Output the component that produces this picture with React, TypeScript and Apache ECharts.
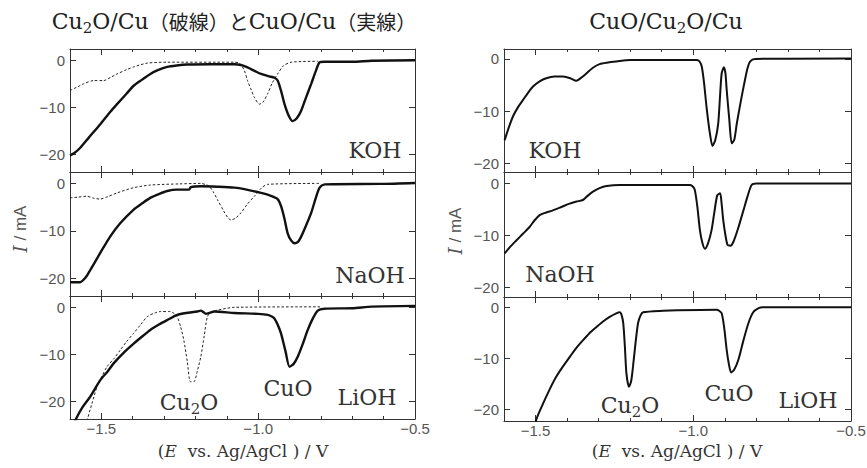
import React, { useEffect, useRef } from 'react';
import * as echarts from 'echarts';

// ---- data: [E (V vs Ag/AgCl), I (mA)] ----
const kohCu2O = [[-1.6,-6.4],[-1.575,-5.6],[-1.557,-5],[-1.525,-4.3],[-1.493,-4.3],[-1.47,-3.6],[-1.45,-2.9],[-1.42,-2],[-1.397,-1.4],[-1.354,-0.6],[-1.29,-0.4],[-1.076,-0.4],[-1.06,-0.6],[-1.045,-2],[-1.034,-4.3],[-1.022,-6.3],[-1.012,-7.9],[-0.996,-9.3],[-0.985,-8.9],[-0.97,-7.1],[-0.955,-4.8],[-0.938,-2.9],[-0.92,-1.2],[-0.895,-0.4],[-0.81,-0.2]];
const kohCuO = [[-1.6,-20.2],[-1.585,-19.6],[-1.568,-18.6],[-1.54,-16.4],[-1.504,-13.6],[-1.47,-10.8],[-1.45,-9.3],[-1.42,-7.1],[-1.397,-5.4],[-1.37,-4.1],[-1.344,-2.9],[-1.32,-2.1],[-1.29,-1.4],[-1.26,-1.1],[-1.226,-0.9],[-1.15,-0.85],[-1.076,-0.85],[-1.055,-1.0],[-1.034,-1.5],[-1.01,-2.3],[-0.991,-2.9],[-0.965,-3.4],[-0.948,-3.7],[-0.938,-4.3],[-0.927,-6.5],[-0.916,-9.3],[-0.903,-11.7],[-0.89,-12.9],[-0.877,-12.3],[-0.863,-10.7],[-0.847,-7.8],[-0.831,-5],[-0.817,-2.4],[-0.804,-0.4],[-0.79,-0.3],[-0.7,-0.3],[-0.638,-0.1],[-0.5,0]];
const naohCu2O = [[-1.6,-3.05],[-1.575,-2.9],[-1.547,-2.7],[-1.525,-3.1],[-1.504,-3.3],[-1.48,-2.8],[-1.45,-2],[-1.397,-0.9],[-1.344,-0.35],[-1.25,-0.1],[-1.183,0],[-1.165,-0.3],[-1.156,-0.6],[-1.143,-1.8],[-1.13,-3.4],[-1.11,-5.8],[-1.098,-7.1],[-1.087,-7.7],[-1.072,-7.3],[-1.055,-6.2],[-1.035,-4.4],[-1.012,-2.7],[-0.99,-1],[-0.97,-0.2],[-0.8,0]];
const naohCuO = [[-1.6,-20.8],[-1.568,-20.8],[-1.55,-19.8],[-1.536,-18.3],[-1.505,-14.8],[-1.472,-11.2],[-1.44,-8.4],[-1.397,-5.5],[-1.37,-4.2],[-1.344,-3.05],[-1.315,-2.2],[-1.29,-1.6],[-1.26,-1.3],[-1.22,-1.3],[-1.215,-0.8],[-1.183,-0.6],[-1.13,-0.7],[-1.076,-0.9],[-1.03,-1.4],[-0.991,-2],[-0.96,-2.6],[-0.938,-3.3],[-0.927,-4.8],[-0.916,-7.5],[-0.906,-10.5],[-0.895,-12],[-0.884,-12.6],[-0.873,-12.3],[-0.863,-11.2],[-0.847,-8.8],[-0.831,-6.2],[-0.815,-2.8],[-0.804,-0.9],[-0.788,-0.2],[-0.606,-0.1],[-0.5,0.1]];
const liohCu2O = [[-1.55,-26],[-1.544,-23.7],[-1.53,-20.4],[-1.514,-16.9],[-1.498,-14.6],[-1.482,-12.6],[-1.46,-10.9],[-1.44,-9.1],[-1.42,-7.3],[-1.397,-5.5],[-1.375,-3.7],[-1.354,-2],[-1.33,-1.2],[-1.311,-0.9],[-1.28,-0.9],[-1.268,-1.3],[-1.258,-2],[-1.247,-4.2],[-1.237,-7],[-1.226,-11.5],[-1.216,-15.8],[-1.205,-15.8],[-1.194,-13.5],[-1.183,-10.5],[-1.172,-6],[-1.162,-2],[-1.15,-1],[-1.13,-0.6],[-1.076,0],[-0.8,0.1]];
const liohCuO = [[-1.595,-26],[-1.581,-23.7],[-1.56,-21.2],[-1.536,-19],[-1.504,-15.5],[-1.48,-13.6],[-1.461,-11.9],[-1.43,-9.7],[-1.397,-7.7],[-1.37,-6.2],[-1.344,-4.8],[-1.315,-3.6],[-1.29,-2.7],[-1.258,-1.6],[-1.23,-1.2],[-1.194,-0.9],[-1.183,-0.7],[-1.175,-1.0],[-1.167,-1.4],[-1.155,-1.2],[-1.14,-0.9],[-1.076,-1.2],[-1.0,-1.4],[-0.97,-1.6],[-0.955,-2.0],[-0.948,-2.4],[-0.937,-3.8],[-0.927,-5.6],[-0.913,-9.3],[-0.9,-12.6],[-0.887,-12.0],[-0.874,-10.5],[-0.858,-7.8],[-0.842,-4.8],[-0.826,-2.4],[-0.81,-0.7],[-0.79,-0.3],[-0.7,-0.2],[-0.638,0.15],[-0.5,0.3]];
const kohMixed = [[-1.598,-15.6],[-1.585,-13.2],[-1.572,-11.1],[-1.556,-9.3],[-1.54,-7.9],[-1.524,-6.5],[-1.508,-5.3],[-1.487,-4.3],[-1.466,-3.7],[-1.44,-3.4],[-1.413,-3.4],[-1.39,-3.7],[-1.371,-4.2],[-1.355,-3.6],[-1.339,-2.8],[-1.318,-1.7],[-1.297,-1],[-1.27,-0.7],[-1.244,-0.5],[-1.2,-0.2],[-0.989,-0.2],[-0.98,-0.5],[-0.973,-1.5],[-0.966,-4.5],[-0.958,-9.2],[-0.948,-14],[-0.939,-16.7],[-0.93,-15.5],[-0.921,-12.4],[-0.915,-7],[-0.91,-2.8],[-0.903,-1.6],[-0.898,-2.8],[-0.894,-6],[-0.886,-11.5],[-0.878,-16.2],[-0.87,-15.5],[-0.862,-12.4],[-0.849,-8],[-0.836,-4],[-0.828,-1.8],[-0.82,-0.5],[-0.804,0],[-0.5,0.1]];
const naohMixed = [[-1.598,-13.5],[-1.58,-12.2],[-1.561,-11],[-1.54,-9.7],[-1.519,-8.4],[-1.503,-7.1],[-1.487,-6.1],[-1.466,-5.6],[-1.445,-5.2],[-1.42,-4.6],[-1.392,-3.9],[-1.37,-3.5],[-1.35,-3.2],[-1.335,-2.4],[-1.318,-1.6],[-1.297,-0.9],[-1.275,-0.5],[-1.233,-0.3],[-1.01,-0.3],[-1.0,-0.7],[-0.995,-1.3],[-0.987,-4.5],[-0.979,-9],[-0.971,-11.5],[-0.963,-12.6],[-0.953,-11.5],[-0.942,-9],[-0.933,-5.5],[-0.924,-2.3],[-0.915,-1.9],[-0.91,-4],[-0.905,-7.1],[-0.898,-10],[-0.891,-11.9],[-0.882,-12],[-0.873,-11.3],[-0.857,-8.5],[-0.841,-5.2],[-0.828,-2.5],[-0.815,-0.3],[-0.799,0],[-0.5,0]];
const liohMixed = [[-1.505,-25],[-1.498,-22.1],[-1.477,-19],[-1.456,-16.2],[-1.435,-13.7],[-1.413,-11.6],[-1.39,-9.6],[-1.371,-8],[-1.35,-6.5],[-1.329,-5.1],[-1.307,-3.9],[-1.286,-2.8],[-1.265,-1.9],[-1.244,-1.2],[-1.233,-1],[-1.227,-1.6],[-1.222,-3.1],[-1.217,-7.5],[-1.212,-12.9],[-1.204,-15.6],[-1.197,-14.5],[-1.191,-11.6],[-1.183,-7],[-1.175,-3.1],[-1.167,-1.6],[-1.159,-1],[-1.095,-0.7],[-1.05,-0.6],[-0.926,-0.5],[-0.918,-0.7],[-0.91,-1.2],[-0.902,-4],[-0.894,-8.4],[-0.887,-11.2],[-0.88,-12.8],[-0.87,-12.2],[-0.857,-10.3],[-0.841,-6.5],[-0.825,-3.1],[-0.81,-1],[-0.793,-0.2],[-0.78,0],[-0.5,0]];

// ---- ticks / labels ----
const xMajorTicks = [-1.5, -1.0, -0.5];
const xMinorTicks = [-1.6, -1.5, -1.4, -1.3, -1.2, -1.1, -1.0, -0.9, -0.8, -0.7, -0.6, -0.5];
const yTicks = [-20, -10, 0];
const electrolytes = ['KOH', 'NaOH', 'LiOH'];
const leftTitleParts = ['Cu', '2', 'O/Cu', '（破線）と', 'CuO/Cu', '（実線）'];
const rightTitleParts = ['CuO/Cu', '2', 'O/Cu'];
const cu2oParts = ['Cu', '2', 'O'];
const cuoLabel = 'CuO';
const xName = ['(', 'E', '  vs. Ag/AgCl ) / V'];
const yName = ['I', ' / mA'];

const SERIF = "'DejaVu Serif', 'Liberation Serif', serif";
const SANS = "'Liberation Sans', Arial, sans-serif";
const minus = (v: number, d: number) => v.toFixed(d).replace('-', '\u2212');

export default function App() {
  const ref = useRef<HTMLDivElement>(null);
  useEffect(() => {
    const chart = echarts.init(ref.current!, null, { renderer: 'svg' });

    const panels = [
      { left: 70, width: 345, top: 49, height: 123, ymin: -23.7, ymax: 2.4, bottom: false },
      { left: 70, width: 345, top: 172, height: 124, ymin: -23.7, ymax: 2.4, bottom: false },
      { left: 70, width: 345, top: 296, height: 123, ymin: -23.7, ymax: 2.4, bottom: true },
      { left: 504, width: 347, top: 49, height: 123, ymin: -21.7, ymax: 1.9, bottom: false },
      { left: 504, width: 347, top: 172, height: 125, ymin: -21.9, ymax: 2.2, bottom: false },
      { left: 504, width: 347, top: 297, height: 124, ymin: -22.3, ymax: 2.0, bottom: true },
    ];

    const grid: any[] = [];
    const xAxis: any[] = [];
    const yAxis: any[] = [];
    panels.forEach((p, g) => {
      grid.push({ left: p.left, top: p.top, width: p.width, height: p.height, containLabel: false, outerBoundsMode: 'none' });
      const base = {
        type: 'value', gridIndex: g, min: -1.6, max: -0.5,
        splitLine: { show: false },
      };
      const line = { show: true, onZero: false, lineStyle: { color: '#333', width: 1 } };
      xAxis.push({
        ...base, position: 'bottom', axisLine: line,
        axisTick: { show: true, inside: true, length: 6, customValues: xMajorTicks, lineStyle: { color: '#333' } },
        axisLabel: p.bottom
          ? { show: true, customValues: xMajorTicks, margin: 2, fontSize: 15, lineHeight: 15, color: '#555', fontFamily: SANS, formatter: (v: number) => minus(v, 1) }
          : { show: false },
      });
      xAxis.push({
        ...base, position: 'bottom', axisLine: { show: false, onZero: false },
        axisTick: { show: true, inside: true, length: 3, customValues: xMinorTicks, lineStyle: { color: '#333' } },
        axisLabel: { show: false },
      });
      xAxis.push({
        ...base, position: 'top', axisLine: line,
        axisTick: { show: true, inside: true, length: 6, customValues: xMajorTicks, lineStyle: { color: '#333' } },
        axisLabel: { show: false },
      });
      xAxis.push({
        ...base, position: 'top', axisLine: { show: false, onZero: false },
        axisTick: { show: true, inside: true, length: 3, customValues: xMinorTicks, lineStyle: { color: '#333' } },
        axisLabel: { show: false },
      });
      yAxis.push({
        type: 'value', gridIndex: g, min: p.ymin, max: p.ymax, position: 'left',
        splitLine: { show: false }, axisLine: line,
        axisTick: { show: true, inside: true, length: 6, customValues: yTicks, lineStyle: { color: '#333' } },
        axisLabel: { show: true, customValues: yTicks, margin: 5, fontSize: 15, color: '#555', fontFamily: SANS, formatter: (v: number) => minus(v, 0) },
      });
      yAxis.push({
        type: 'value', gridIndex: g, min: p.ymin, max: p.ymax, position: 'right',
        splitLine: { show: false }, axisLine: line,
        axisTick: { show: true, inside: true, length: 6, customValues: yTicks, lineStyle: { color: '#333' } },
        axisLabel: { show: false },
      });
    });

    const solid = (g: number, data: number[][], w: number) => ({
      type: 'line', xAxisIndex: 4 * g, yAxisIndex: 2 * g, data, showSymbol: false, symbol: 'none',
      smooth: 0.25, clip: true, z: 3,
      lineStyle: { color: '#111', width: w, type: 'solid' },
    });
    const dashed = (g: number, data: number[][]) => ({
      type: 'line', xAxisIndex: 4 * g, yAxisIndex: 2 * g, data, showSymbol: false, symbol: 'none',
      smooth: 0.25, clip: true, z: 2,
      lineStyle: { color: '#222', width: 1, type: [2.5, 2] },
    });

    const series = [
      dashed(0, kohCu2O), solid(0, kohCuO, 2.4),
      dashed(1, naohCu2O), solid(1, naohCuO, 2.4),
      dashed(2, liohCu2O), solid(2, liohCuO, 2.4),
      solid(3, kohMixed, 2), solid(4, naohMixed, 2), solid(5, liohMixed, 2),
    ];

    const txt = (x: number, y: number, text: string, size = 22, extra: any = {}) => ({
      type: 'text', x, y, z: 10,
      style: {
        text, fontSize: size, fontFamily: SERIF, fill: '#333',
        align: 'center', verticalAlign: 'middle', textAlign: 'center', textVerticalAlign: 'middle', ...extra,
      },
    });

    const lat = { fontSize: 22, fontFamily: SERIF, fill: '#333', color: '#333' };
    const sub = { fontSize: 15, fontFamily: SERIF, fill: '#333', color: '#333', padding: [13, 0, 0, 0] };
    const latT = { fontSize: 22, fontFamily: SERIF, fill: '#222', color: '#222' };
    const subT = { fontSize: 15, fontFamily: SERIF, fill: '#222', color: '#222', padding: [13, 0, 0, 0] };
    const cjk = { fontSize: 20, fontFamily: "'Noto Sans CJK JP', sans-serif", fill: '#222', color: '#222' };
    const xNameRich = {
      n: { fontSize: 17, fontFamily: SERIF, fill: '#333', color: '#333' },
      i: { fontSize: 17, fontFamily: SERIF, fontStyle: 'italic', fill: '#333', color: '#333' },
    };
    const yNameRich = {
      i: { fontSize: 18, fontFamily: SERIF, fontStyle: 'italic', fill: '#555', color: '#555' },
      n: { fontSize: 17, fontFamily: SANS, fill: '#555', color: '#555' },
    };
    const cu2oText = `{l|${cu2oParts[0]}}{s|${cu2oParts[1]}}{l|${cu2oParts[2]}}`;
    const cu2oRich = { rich: { l: lat, s: sub } };

    const graphic: any[] = [
      txt(234, 21,
        `{l|${leftTitleParts[0]}}{s|${leftTitleParts[1]}}{l|${leftTitleParts[2]}}{j|${leftTitleParts[3]}}{l|${leftTitleParts[4]}}{j|${leftTitleParts[5]}}`,
        22, { rich: { l: latT, s: subT, j: cjk } }),
      txt(666, 21, `{l|${rightTitleParts[0]}}{s|${rightTitleParts[1]}}{l|${rightTitleParts[2]}}`, 22, { rich: { l: latT, s: subT } }),
      // panel labels (left)
      txt(375, 150, electrolytes[0]),
      txt(370, 275, electrolytes[1]),
      txt(367, 397, electrolytes[2]),
      txt(189, 402, cu2oText, 22, cu2oRich),
      txt(288, 388, cuoLabel),
      // panel labels (right)
      txt(555, 150, electrolytes[0]),
      txt(560, 274, electrolytes[1]),
      txt(808, 400, electrolytes[2]),
      txt(630, 405, cu2oText, 22, cu2oRich),
      txt(729, 393, cuoLabel),
      // axis names
      txt(243, 451, `{n|${xName[0]}}{i|${xName[1]}}{n|${xName[2]}}`, 17, { rich: xNameRich }),
      txt(677, 451, `{n|${xName[0]}}{i|${xName[1]}}{n|${xName[2]}}`, 17, { rich: xNameRich }),
      { ...txt(20, 229, `{i|${yName[0]}}{n|${yName[1]}}`, 17, { rich: yNameRich }), rotation: Math.PI / 2 },
      { ...txt(455, 231, `{i|${yName[0]}}{n|${yName[1]}}`, 17, { rich: yNameRich }), rotation: Math.PI / 2 },
    ];

    chart.setOption({
      animation: false,
      backgroundColor: '#fff',
      grid, xAxis, yAxis, series, graphic,
    });
    return () => chart.dispose();
  }, []);
  return <div ref={ref} style={{ position: 'fixed', left: 0, top: 0, width: 867, height: 468, background: '#fff' }} />;
}
